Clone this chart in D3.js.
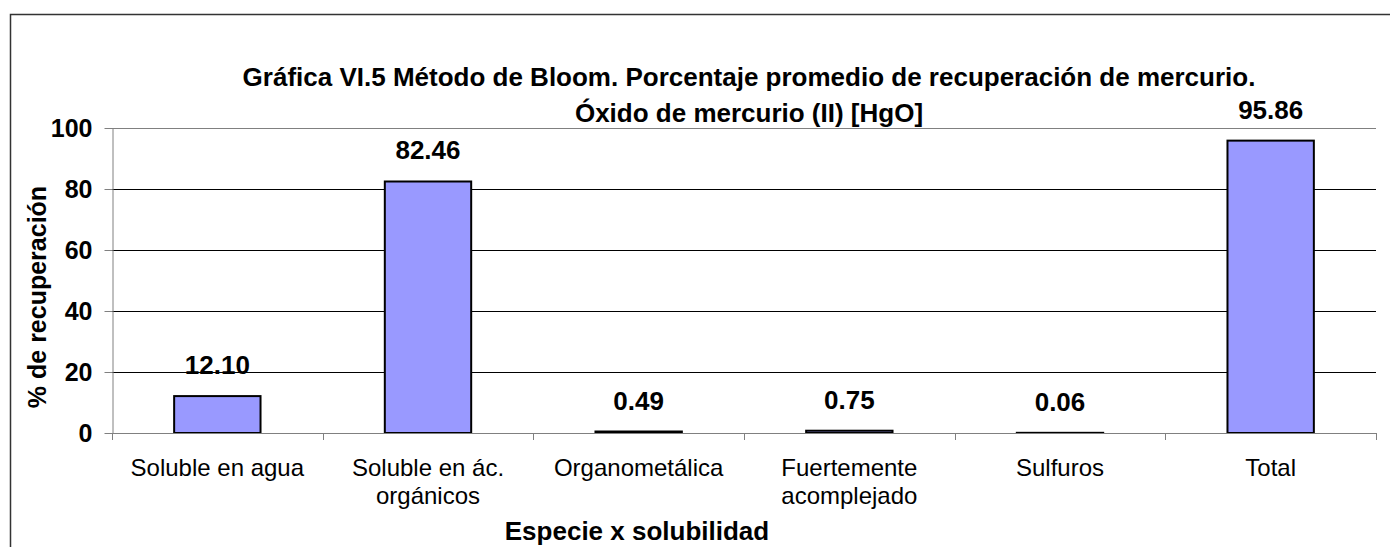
<!DOCTYPE html>
<meta charset="utf-8">
<style>
    body { margin: 0; background: #fff; }
    text { font-family: "Liberation Sans", Arial, sans-serif; fill: #000; }
    .axis path, .axis line { stroke: #808080; }
    .grid line { stroke: #000; stroke-width: 1; }
</style>
<body>
<div id="chart"></div>
<script src="https://d3js.org/d3.v7.min.js"></script>
<script>

    var categories = ["Soluble en agua", "Soluble en ác.|orgánicos", "Organometálica",
                      "Fuertemente|acomplejado", "Sulfuros", "Total"];
    var values = [12.10, 82.46, 0.49, 0.75, 0.06, 95.86];
    var yTicks = [0, 20, 40, 60, 80, 100];
    var titleLines = ["Gráfica VI.5 Método de Bloom. Porcentaje promedio de recuperación de mercurio.",
                      "Óxido de mercurio (II) [HgO]"];

    var W = 1390, H = 547,
        plot = {left: 112, right: 1376, top: 128, bottom: 433};

    var svg = d3.select("#chart").append("svg")
                .attr("width", W).attr("height", H);

    // outer frame (right and bottom edges fall outside the picture)
    svg.append("rect")
       .attr("x", 10.5).attr("y", 14.5)
       .attr("width", W + 20).attr("height", H + 20)
       .attr("fill", "none").attr("stroke", "#333").attr("stroke-width", 1.5);

    var x = d3.scaleBand().domain(d3.range(categories.length))
              .range([plot.left, plot.right]).paddingInner(0.59).paddingOuter(0.295);
    var xb = d3.scaleBand().domain(d3.range(categories.length))
               .range([plot.left, plot.right]);
    var y = d3.scaleLinear().domain([0, 100]).range([plot.bottom, plot.top]);

    // gridlines
    svg.append("g").attr("class", "grid")
       .selectAll("line").data(yTicks.filter(d => d > 0 && d < 100)).enter()
       .append("line")
       .attr("x1", plot.left).attr("x2", plot.right)
       .attr("y1", d => Math.round(y(d)) + 0.5).attr("y2", d => Math.round(y(d)) + 0.5);

    // plot top border (gray)
    svg.append("line")
       .attr("x1", plot.left).attr("x2", plot.right)
       .attr("y1", plot.top + 0.5).attr("y2", plot.top + 0.5)
       .attr("stroke", "#808080");

    // bars
    svg.append("g").selectAll("rect").data(values).enter()
       .append("rect")
       .attr("x", (d, i) => x(i))
       .attr("width", x.bandwidth())
       .attr("y", d => y(d))
       .attr("height", d => plot.bottom - y(d))
       .attr("fill", "#9999ff")
       .attr("stroke", "#000")
       .attr("stroke-width", 2);

    // value labels
    svg.append("g").selectAll("text").data(values).enter()
       .append("text")
       .attr("x", (d, i) => x(i) + x.bandwidth() / 2)
       .attr("y", d => y(d) - 22)
       .attr("text-anchor", "middle")
       .style("font-size", "26px").style("font-weight", "bold")
       .text(d => d3.format(".2f")(d));

    // y axis
    var yAxis = svg.append("g").attr("class", "axis")
       .attr("transform", "translate(" + (plot.left + 0.5) + ",0)")
       .call(d3.axisLeft(y).tickValues(yTicks).tickSize(8).tickPadding(12).tickSizeOuter(0));
    yAxis.selectAll("text").style("font-size", "25px").style("font-weight", "bold")
         .style("font-family", "'Liberation Sans', Arial, sans-serif")
         .attr("fill", "#000");

    // x axis line + ticks at category boundaries
    var xg = svg.append("g").attr("class", "axis");
    xg.append("line")
      .attr("x1", plot.left).attr("x2", plot.right)
      .attr("y1", plot.bottom + 0.5).attr("y2", plot.bottom + 0.5);
    xg.selectAll("line.tk").data(d3.range(categories.length + 1)).enter()
      .append("line").attr("class", "tk")
      .attr("x1", i => Math.round(plot.left + i * xb.step()) + 0.5)
      .attr("x2", i => Math.round(plot.left + i * xb.step()) + 0.5)
      .attr("y1", plot.bottom).attr("y2", plot.bottom + 7);

    // category labels
    var cl = svg.append("g").selectAll("text").data(categories).enter()
       .append("text")
       .attr("x", (d, i) => xb(i) + xb.bandwidth() / 2)
       .attr("y", 476)
       .attr("text-anchor", "middle")
       .style("font-size", "24px");
    cl.selectAll("tspan").data(d => d.split("|")).enter()
      .append("tspan")
      .attr("x", function () { return d3.select(this.parentNode).attr("x"); })
      .attr("dy", (d, i) => i === 0 ? 0 : 28)
      .text(d => d);

    // title
    svg.append("g").selectAll("text").data(titleLines).enter()
       .append("text")
       .attr("x", 749).attr("y", (d, i) => 86 + i * 36)
       .attr("text-anchor", "middle")
       .style("font-size", "26px").style("font-weight", "bold")
       .text(d => d);

    // axis titles
    svg.append("text")
       .attr("transform", "translate(46,297) rotate(-90)")
       .attr("text-anchor", "middle")
       .style("font-size", "25px").style("font-weight", "bold")
       .text("% de recuperación");

    svg.append("text")
       .attr("x", 637).attr("y", 540)
       .attr("text-anchor", "middle")
       .style("font-size", "26px").style("font-weight", "bold")
       .text("Especie x solubilidad");

</script>
</body>
